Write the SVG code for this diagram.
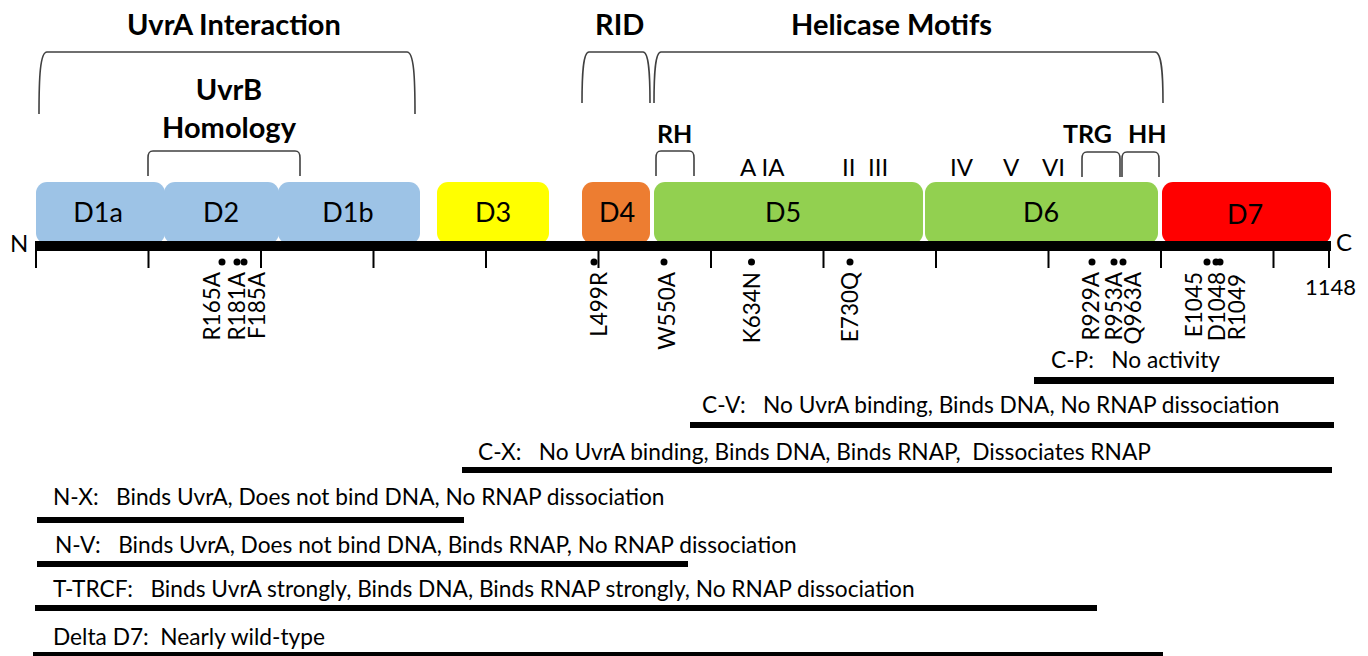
<svg xmlns="http://www.w3.org/2000/svg" width="1368" height="656" viewBox="0 0 1368 656" xml:space="preserve">
<style>
text{font-family:Lato,"Liberation Sans",sans-serif;fill:#000;white-space:pre}
.h{font-weight:bold;font-size:29px}
.hs{font-weight:bold;font-size:25px}
.m{font-size:24px}
.d{font-size:27px;text-anchor:middle}
.mu{font-size:22.5px;text-anchor:end}
.c{font-size:22.7px}
.br{fill:none;stroke:#404040;stroke-width:1.6}
.tk{stroke:#000;stroke-width:2}
.ln{fill:#000}
.blue{fill:#9DC3E6}
</style>
<rect width="1368" height="656" fill="#fff"/>
<g id="headings">
<text class="h" x="127" y="35">UvrA Interaction</text>
<text class="h" x="595" y="35">RID</text>
<text class="h" x="791" y="35">Helicase Motifs</text>
<text class="h" x="229" y="100" text-anchor="middle">UvrB</text>
<text class="h" x="229" y="138" text-anchor="middle">Homology</text>
<text class="hs" x="657" y="143">RH</text>
<text class="hs" x="1063" y="143">TRG</text>
<text class="hs" x="1128" y="143">HH</text>
<text class="m" x="740" y="176">A IA</text>
<text class="m" x="842" y="176">II</text>
<text class="m" x="868" y="176">III</text>
<text class="m" x="950" y="176">IV</text>
<text class="m" x="1003" y="176">V</text>
<text class="m" x="1042" y="176">VI</text>
</g>
<g id="brackets">
<path class="br" d="M39,114 C39,78 40,52 47,52 H407 C414,52 415,78 415,114"/>
<path class="br" d="M582,103 C582,75 583,52 589,52 H643 C649,52 650,75 650,103"/>
<path class="br" d="M654,103 C654,75 655,52 661,52 H1155 C1162,52 1163,75 1163,103"/>
<path class="br" d="M148,176 V158 C148,153 149,151 153,151 H295 C299,151 300,153 300,158 V176"/>
<path class="br" d="M656,176 V158 C656,153 657,151 661,151 H689 C693,151 694,153 694,158 V176"/>
<path class="br" d="M1082,177 V159 C1082,154 1083,152 1087,152 H1115 C1119,152 1120,154 1120,159 V177"/>
<path class="br" d="M1122,177 V159 C1122,154 1123,152 1127,152 H1154 C1158,152 1159,154 1159,159 V177"/>
</g>
<g id="D1a"><rect class="blue" x="36" y="182" width="129" height="62" rx="11"/><text class="d" x="98" y="222">D1a</text></g>
<g id="D2"><rect class="blue" x="164" y="182" width="115" height="62" rx="11"/><text class="d" x="221" y="222">D2</text></g>
<g id="D1b"><rect class="blue" x="278" y="182" width="142" height="62" rx="11"/><text class="d" x="348" y="222">D1b</text></g>
<g id="D3"><rect fill="#FFFF00" x="437" y="182" width="112" height="62" rx="11"/><text class="d" x="493" y="222">D3</text></g>
<g id="D4"><rect fill="#ED7D31" x="582" y="182" width="68" height="62" rx="11"/><text class="d" x="617" y="222">D4</text></g>
<g id="D5"><rect fill="#92D050" x="654" y="182" width="269" height="62" rx="11"/><text class="d" x="783" y="222">D5</text></g>
<g id="D6"><rect fill="#92D050" x="925" y="182" width="233" height="62" rx="11"/><text class="d" x="1041" y="222">D6</text></g>
<g id="D7"><rect fill="#FF0000" x="1162" y="182" width="169" height="62" rx="11"/><text class="d" x="1245" y="224">D7</text></g>
<g id="scale">
<rect class="ln" x="35" y="241" width="1296" height="10"/>
<text style="font-size:24px" x="10" y="252">N</text>
<text style="font-size:24px" x="1336" y="251">C</text>
<text style="font-size:22px" x="1305" y="295">1148</text>
<path class="tk" d="M36,250V268M148.5,250V268M261,250V268M373.5,250V268M486,250V268M598.5,250V268M711,250V268M823.5,250V268M936,250V268M1048.5,250V268M1161,250V268M1273.5,250V268M1329,250V268"/>
</g>
<g id="mutations">
<g fill="#000">
<circle cx="222" cy="262" r="3.5"/><circle cx="237" cy="262" r="3.5"/><circle cx="244" cy="262" r="3.5"/>
<circle cx="594" cy="262" r="3.5"/><circle cx="664" cy="262" r="3.5"/><circle cx="751.5" cy="262" r="3.5"/><circle cx="850" cy="262" r="3.5"/>
<circle cx="1092" cy="262" r="3.5"/><circle cx="1114" cy="262" r="3.5"/><circle cx="1123" cy="262" r="3.5"/>
<circle cx="1207" cy="262" r="3.5"/><circle cx="1216" cy="262" r="3.5"/><circle cx="1220" cy="262" r="3.5"/>
</g>
<text class="mu" x="220" y="272" transform="rotate(-90 220 272)">R165A</text>
<text class="mu" x="245" y="272" transform="rotate(-90 245 272)">R181A</text>
<text class="mu" x="265" y="272" transform="rotate(-90 265 272)">F185A</text>
<text class="mu" x="607" y="272" transform="rotate(-90 607 272)">L499R</text>
<text class="mu" x="675" y="272" transform="rotate(-90 675 272)">W550A</text>
<text class="mu" x="760" y="272" transform="rotate(-90 760 272)">K634N</text>
<text class="mu" x="858" y="272" transform="rotate(-90 858 272)">E730Q</text>
<text class="mu" x="1099" y="272" transform="rotate(-90 1099 272)">R929A</text>
<text class="mu" x="1122" y="272" transform="rotate(-90 1122 272)">R953A</text>
<text class="mu" x="1141" y="272" transform="rotate(-90 1141 272)">Q963A</text>
<text class="mu" x="1202" y="272" transform="rotate(-90 1202 272)">E1045</text>
<text class="mu" x="1225" y="272" transform="rotate(-90 1225 272)">D1048</text>
<text class="mu" x="1245" y="274" transform="rotate(-90 1245 274)">R1049</text>
</g>
<g id="constructs">
<text class="c" x="1051" y="368">C-P:   No activity</text>
<rect class="ln" x="1034" y="377" width="300" height="7"/>
<text class="c" x="702" y="413">C-V:   No UvrA binding, Binds DNA, No RNAP dissociation</text>
<rect class="ln" x="690" y="422" width="644" height="6"/>
<text class="c" x="478" y="460">C-X:   No UvrA binding, Binds DNA, Binds RNAP,  Dissociates RNAP</text>
<rect class="ln" x="462" y="467" width="870" height="6"/>
<text class="c" x="53" y="505">N-X:   Binds UvrA, Does not bind DNA, No RNAP dissociation</text>
<rect class="ln" x="37" y="517" width="427" height="6"/>
<text class="c" x="55" y="553">N-V:   Binds UvrA, Does not bind DNA, Binds RNAP, No RNAP dissociation</text>
<rect class="ln" x="37" y="561" width="651" height="6"/>
<text class="c" x="53" y="597">T-TRCF:   Binds UvrA strongly, Binds DNA, Binds RNAP strongly, No RNAP dissociation</text>
<rect class="ln" x="35" y="605" width="1062" height="6"/>
<text class="c" x="53" y="645">Delta D7:  Nearly wild-type</text>
<rect class="ln" x="33" y="652" width="1130" height="5"/>
</g>
</svg>
